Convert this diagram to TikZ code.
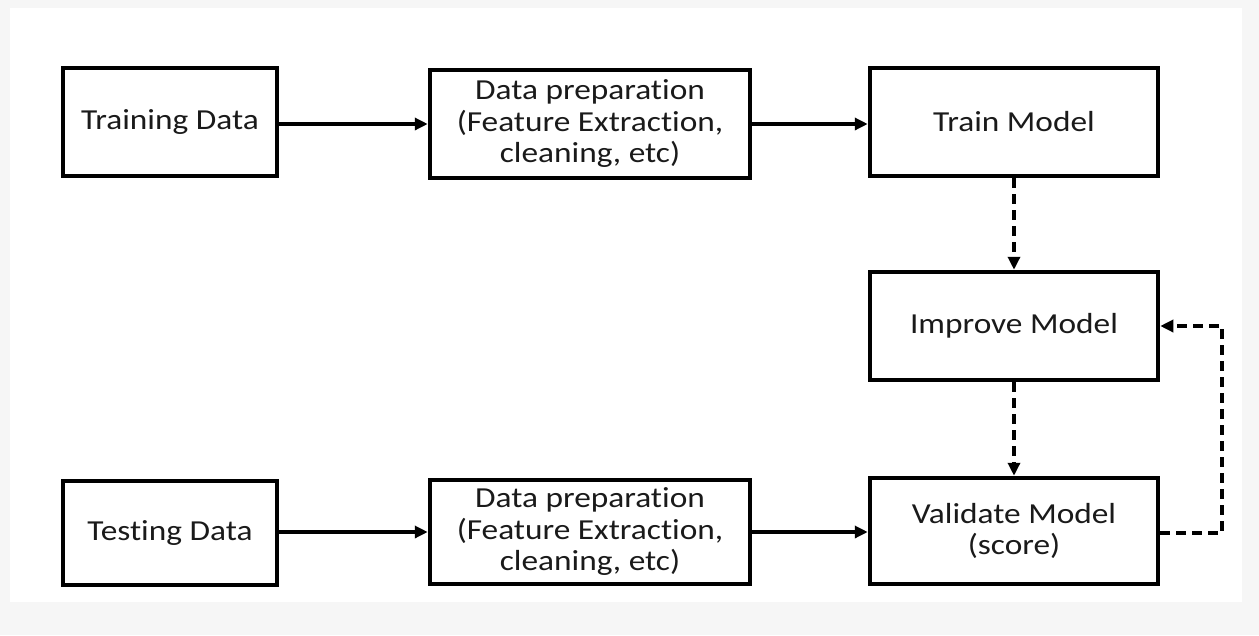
\documentclass[tikz,border=0pt]{standalone}
\usepackage{fontspec}
\setmainfont{Carlito}[FakeStretch=1.15,Ligatures=NoCommon]
\usetikzlibrary{arrows.meta}
\definecolor{bgout}{HTML}{F6F6F6}
\definecolor{txt}{HTML}{1A1A1A}
\begin{document}
\begin{tikzpicture}[x=1pt,y=-1pt,
  box/.style={draw=black,line width=4.5pt,fill=white,inner sep=0pt,align=center,
    text=txt,font=\fontsize{29}{31.5}\selectfont},
  conn/.style={line width=3.5pt,-{Triangle[length=13pt,width=12pt]}},
  dconn/.style={conn,line width=4pt,dash pattern=on 10pt off 6pt}]
\useasboundingbox (0,0) rectangle (1259,635);
\fill[bgout] (0,0) rectangle (1259,635);
\fill[white] (10,8) rectangle (1242,602);
\node[box,minimum width=214pt,minimum height=108pt] (td) at (170,122) {Training Data};
\node[box,minimum width=320pt,minimum height=108pt] (dp1) at (590,124) {Data preparation\\(Feature Extraction,\\cleaning, etc)};
\node[box,minimum width=288pt,minimum height=108pt] (tm) at (1014,122) {Train Model};
\node[box,minimum width=288pt,minimum height=108pt] (im) at (1014,326) {Improve Model};
\node[box,minimum width=214pt,minimum height=104pt] (ts) at (170,533) {Testing Data};
\node[box,minimum width=320pt,minimum height=104pt] (dp2) at (590,532) {Data preparation\\(Feature Extraction,\\cleaning, etc)};
\node[box,minimum width=288pt,minimum height=106pt] (vm) at (1014,531) {Validate Model\\(score)};
\coordinate (c1) at (1222,533);
\coordinate (c2) at (1222,326);
\draw[conn] (td.east |- 0,124) -- (dp1.west |- 0,124);
\draw[conn] (dp1.east |- 0,124) -- (tm.west |- 0,124);
\draw[conn] (ts.east |- 0,532) -- (dp2.west |- 0,532);
\draw[conn] (dp2.east |- 0,532) -- (vm.west |- 0,532);
\draw[dconn] (tm) -- (im);
\draw[dconn] (im) -- (vm);
\draw[dconn] (vm.east |- c1) -- (c1) -- (c2) -- (im.east);
\end{tikzpicture}
\end{document}
